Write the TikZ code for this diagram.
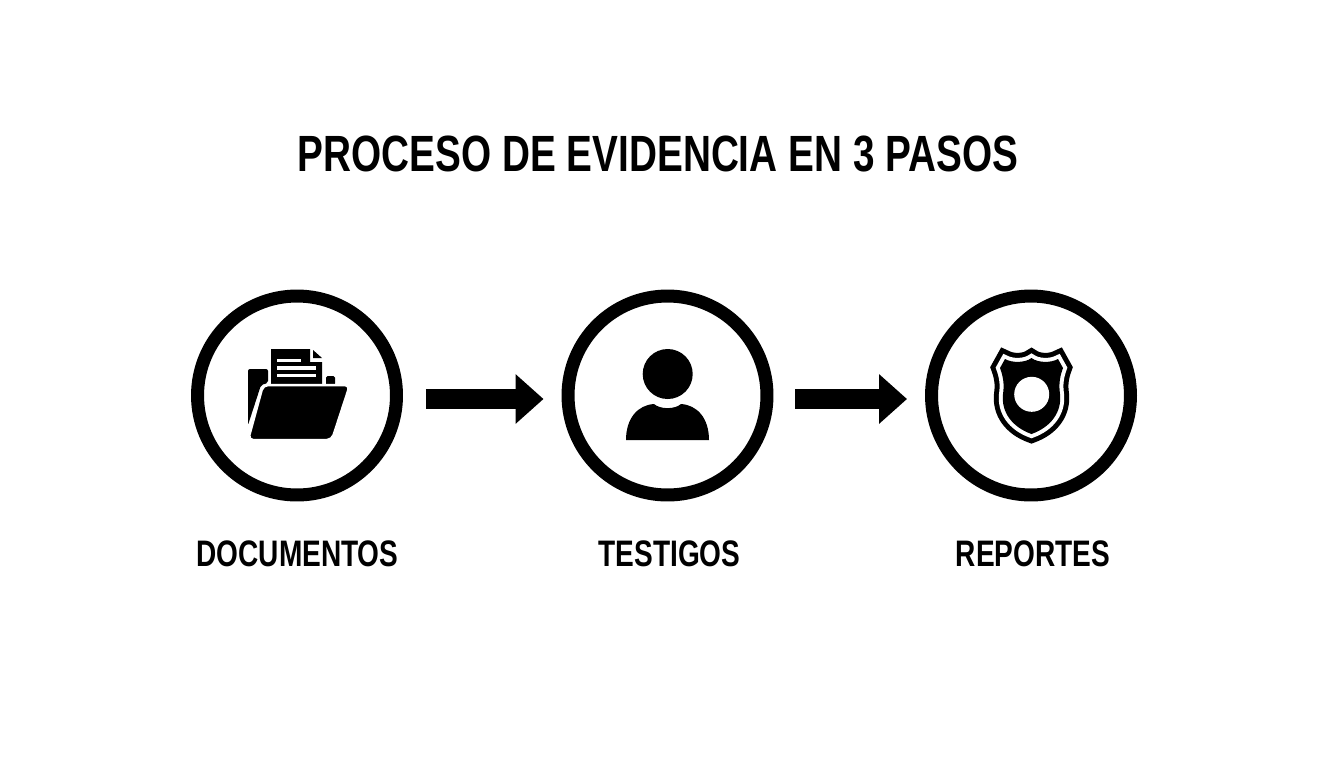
\documentclass[tikz,border=0pt]{standalone}
\usepackage{fontspec}
\setmainfont[FakeStretch=0.76]{Liberation Sans}
\usepackage{tikz}
\usetikzlibrary{arrows.meta, positioning}
\tikzset{>={Triangle[length=0.56cm, width=0.96cm]}}
\tikzset{
  stepcircle/.style={draw, circle, line width=0.26cm, minimum size=3.98cm, inner sep=0pt},
  flowarrow/.style={->, line width=0.4cm},
  steplabel/.style={font=\fontsize{21}{24}\selectfont\bfseries, inner sep=0pt},
  titlelabel/.style={font=\fontsize{29}{34}\selectfont\bfseries, inner sep=0pt}
}
\begin{document}
\begin{tikzpicture}[x=0.02cm, y=-0.02cm]
    \useasboundingbox (0,0) rectangle (1344,768);

    \node[titlelabel]	(title) 	at 	(658,154)  	{PROCESO DE EVIDENCIA EN 3 PASOS};

    \node[stepcircle]	(docs) 	at 	(297,395.5)  	{};
    \node[stepcircle]	(wit)	 at 	(667.5,395.5)	 {};
    \node[stepcircle]	(rep)	 at 	(1031,395.5) 	{};

    \node[steplabel]	(docslabel) 	at 	(297.5,554)  	{DOCUMENTOS};
    \node[steplabel]	(witlabel)	 at 	(669.5,554)	 {TESTIGOS};
    \node[steplabel]	(replabel)	 at 	(1033,554) 	{REPORTES};

    \draw[flowarrow, shorten <=0.46cm, shorten >=0.36cm] ([yshift=-0.07cm]docs.east) -- ([yshift=-0.07cm]wit.west);
    \draw[flowarrow, shorten <=0.44cm, shorten >=0.36cm] ([yshift=-0.07cm]wit.east) -- ([yshift=-0.07cm]rep.west);

    % folder
    \fill[rounded corners=0.04cm] (248,425) -- (248,369) -- (268,369) -- (268,383) -- (261,385) -- cycle;
    \fill[rounded corners=0.03cm] (326,385) -- (326,376) -- (335,376) -- (335,385) -- cycle;
    \fill (271,349) -- (310,349) -- (310,362) -- (322,362) -- (322,385) -- (271,385) -- cycle;
    \fill (313,350) -- (322,358) -- (313,358) -- cycle;
    \fill[white] (277,358.5) rectangle (301,362);
    \fill[white] (277,366) rectangle (316,369.5);
    \fill[white] (277,373.5) rectangle (316,377);
    \fill[rounded corners=0.1cm, draw=white, line width=0.05cm] (263,385) -- (350,385) -- (332,440) -- (248,440) -- cycle;

    % person
    \fill (626,440) .. controls (626,418) and (638,405) .. (654,404) .. controls (660,409.5) and (675,409.5) .. (681,404) .. controls (697,405) and (709,418) .. (709,440) -- cycle;
    \fill (667.7,374) circle (25);

    % shield
    \def\shieldpath{(1031.5,358) .. controls (1025,363) and (1012,363) .. (1005,359) -- (1000,368) .. controls (1003,376) and (1004.5,384) .. (1003,394) .. controls (1001,412) and (1012,427) .. (1031.5,434) .. controls (1051,427) and (1062,412) .. (1060,394) .. controls (1058.5,384) and (1060,376) .. (1063,368) -- (1058,359) .. controls (1051,363) and (1038,363) .. cycle}
    \draw[line width=0.36cm, line join=miter] \shieldpath;
    \draw[white, line width=0.16cm, line join=miter] \shieldpath;
    \fill \shieldpath;
    \fill[white] (1031.7,394.3) circle (17.5);
\end{tikzpicture}
\end{document}
